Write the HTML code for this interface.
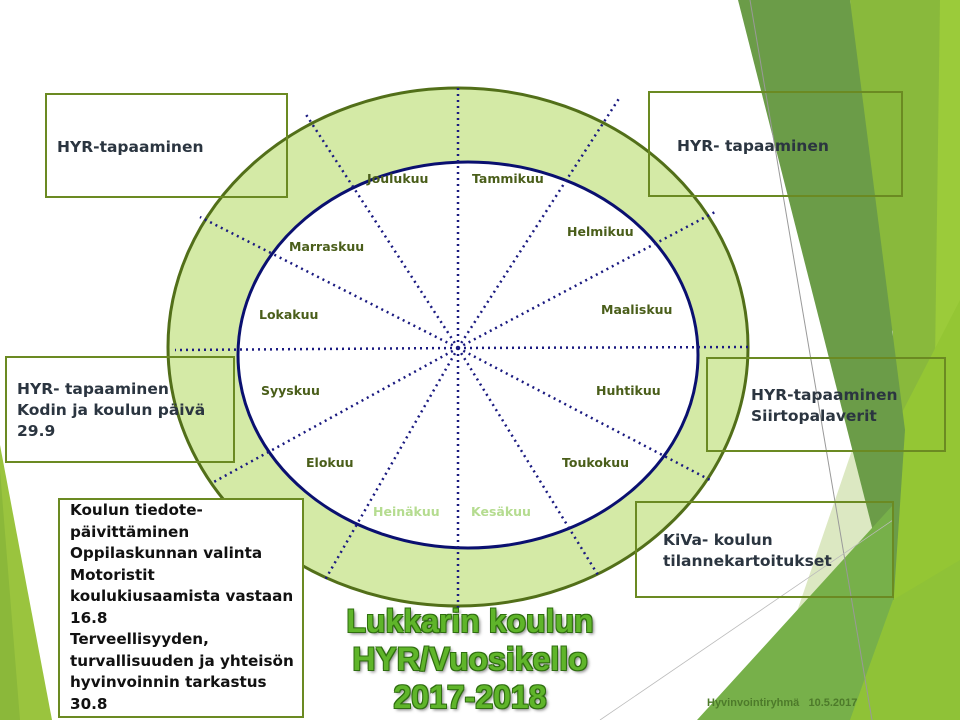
<!DOCTYPE html>
<html><head><meta charset="utf-8"><style>
body{margin:0;width:960px;height:720px;overflow:hidden;background:#fff;position:relative;font-family:"DejaVu Sans","Liberation Sans",sans-serif}
.box{position:absolute;border:2px solid #6b8a22;box-sizing:border-box;color:#2b3540;font-weight:bold;font-size:15.5px;line-height:21px}
.m{position:absolute;font:bold 12.5px "DejaVu Sans",sans-serif;color:#4a5e1a;white-space:nowrap}
.t{position:absolute;left:300px;width:340px;text-align:center;font:bold 32px "Liberation Sans",sans-serif;color:#5fb52a;line-height:38px;text-shadow:1px 1px 0 #2f6e10,-1px -1px 0 #2f6e10,1px -1px 0 #2f6e10,-1px 1px 0 #2f6e10,2px 2px 3px #777}
</style></head><body>
<svg width="960" height="720" style="position:absolute;left:0;top:0">
<polygon points="850,0 960,0 960,720 860,720 893,560" fill="#89b93c"/>
<polygon points="940,0 960,0 960,720 930,720" fill="#9bcb3a"/>
<polygon points="893,430 960,300 960,720 840,720" fill="#94c634"/>
<polygon points="760,720 893,330 893,520" fill="#dce8c2"/>
<polygon points="738,0 850,0 905,430 893,610" fill="#6b9c48"/>
<polygon points="697,720 893,505 893,720" fill="#77b04a"/>
<polygon points="850,720 893,600 960,560 960,720" fill="#8fc237"/>
<line x1="750" y1="0" x2="872" y2="720" stroke="#999" stroke-width="1"/>
<line x1="600" y1="720" x2="893" y2="520" stroke="#bbb" stroke-width="0.8"/>
<polygon points="0,445 0,720 52,720" fill="#9ac43e"/>
<polygon points="0,470 0,720 20,720" fill="#8bb83a"/>
<ellipse cx="458" cy="347" rx="290" ry="259" fill="#d4eaa6" stroke="#526f19" stroke-width="3"/>
<ellipse cx="468" cy="355" rx="230" ry="193" fill="#fff" stroke="#0a1070" stroke-width="3"/>
<g stroke="#1a1a80" stroke-width="2.5" stroke-dasharray="2 4" fill="none">
<line x1="458" y1="348" x2="458" y2="86"/>
<line x1="458" y1="348" x2="458" y2="608"/>
<line x1="458" y1="348" x2="175" y2="350"/>
<line x1="458" y1="348" x2="750" y2="347"/>
<line x1="458" y1="348" x2="305" y2="113"/>
<line x1="458" y1="348" x2="598" y2="575"/>
<line x1="458" y1="348" x2="620" y2="97"/>
<line x1="458" y1="348" x2="325" y2="580"/>
<line x1="458" y1="348" x2="200" y2="217"/>
<line x1="458" y1="348" x2="710" y2="480"/>
<line x1="458" y1="348" x2="715" y2="212"/>
<line x1="458" y1="348" x2="212" y2="483"/>
</g>
</svg>
<div class="m" style="left:367px;top:171px">Joulukuu</div>
<div class="m" style="left:472px;top:171px">Tammikuu</div>
<div class="m" style="left:567px;top:224px">Helmikuu</div>
<div class="m" style="left:289px;top:239px">Marraskuu</div>
<div class="m" style="left:601px;top:302px">Maaliskuu</div>
<div class="m" style="left:259px;top:307px">Lokakuu</div>
<div class="m" style="left:261px;top:383px">Syyskuu</div>
<div class="m" style="left:596px;top:383px">Huhtikuu</div>
<div class="m" style="left:306px;top:455px">Elokuu</div>
<div class="m" style="left:562px;top:455px">Toukokuu</div>
<div class="m" style="left:373px;top:504px;color:#b5dc90">Heinäkuu</div>
<div class="m" style="left:471px;top:504px;color:#b5dc90">Kesäkuu</div>
<div class="box" style="left:45px;top:93px;width:243px;height:105px;padding:42px 0 0 10px">HYR-tapaaminen</div>
<div class="box" style="left:648px;top:91px;width:255px;height:106px;padding:43px 0 0 27px">HYR- tapaaminen</div>
<div class="box" style="left:5px;top:356px;width:230px;height:107px;padding:21px 0 0 10px">HYR- tapaaminen<br>Kodin ja koulun päivä<br>29.9</div>
<div class="box" style="left:706px;top:357px;width:240px;height:95px;padding:26px 0 0 43px">HYR-tapaaminen<br>Siirtopalaverit</div>
<div class="box" style="left:635px;top:501px;width:259px;height:97px;padding:27px 0 0 26px">KiVa- koulun<br>tilannekartoitukset</div>
<div class="box" style="left:58px;top:498px;width:246px;height:220px;background:#fff;color:#111;padding:0 0 0 10px;line-height:21.5px;font-size:15.2px">Koulun tiedote-<br>päivittäminen<br>Oppilaskunnan valinta<br>Motoristit<br>koulukiusaamista vastaan<br>16.8<br>Terveellisyyden,<br>turvallisuuden ja yhteisön<br>hyvinvoinnin tarkastus<br>30.8</div>
<div class="t" style="top:602px">Lukkarin koulun<br>HYR/Vuosikello<br>2017-2018</div>
<div style="position:absolute;left:707px;top:697px;font:bold 11px 'Liberation Sans',sans-serif;color:#4d7a2a">Hyvinvointiryhmä&nbsp;&nbsp; 10.5.2017</div>
</body></html>
